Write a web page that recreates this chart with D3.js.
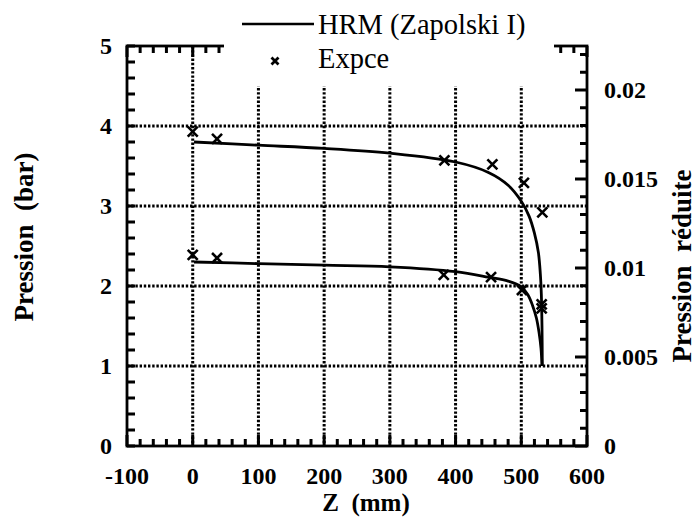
<!DOCTYPE html>
<html>
<head>
<meta charset="utf-8">
<script src="https://cdn.jsdelivr.net/npm/d3@7"></script>
<style>
  html, body { margin: 0; padding: 0; background: #fff; }
  svg { display: block; }
  text { font-family: "Liberation Serif", "Times New Roman", serif; fill: #000; white-space: pre; }
</style>
</head>
<body>
<svg id="chart" width="697" height="517"></svg>
<script>
// ---------- data ----------
const xTicks = [-100, 0, 100, 200, 300, 400, 500, 600];
const yTicks = [0, 1, 2, 3, 4, 5];
const y2Ticks = [0, 0.005, 0.01, 0.015, 0.02];
const y2TickLabels = ["0", "0.005", "0.01", "0.015", "0.02"];
const xGrid = [0, 100, 200, 300, 400, 500];
const yGrid = [1, 2, 3, 4];

// HRM (Zapolski I) model curves
const hrmUpperZ = [2, 100, 200, 300, 400, 450, 480, 500, 512, 520, 526, 529, 530.5, 531.5, 532];
const hrmUpperP = [3.80, 3.76, 3.72, 3.66, 3.55, 3.42, 3.26, 3.06, 2.87, 2.66, 2.42, 2.15, 1.90, 1.50, 1.00];
const hrmLowerZ = [2, 100, 200, 300, 400, 450, 480, 500, 510, 517, 523, 527, 530, 531.5];
const hrmLowerP = [2.30, 2.28, 2.26, 2.24, 2.18, 2.11, 2.06, 1.99, 1.89, 1.76, 1.60, 1.42, 1.22, 1.00];

// Experimental points (Expce)
const expUpperZ = [0, 37, 383, 456, 504, 532];
const expUpperP = [3.93, 3.84, 3.57, 3.52, 3.29, 2.92];
const expLowerZ = [0, 37, 382, 454, 501, 531, 531];
const expLowerP = [2.39, 2.35, 2.14, 2.11, 1.95, 1.77, 1.72];

const legendLabels = ["HRM (Zapolski I)", "Expce"];
const xTitle = "Z  (mm)";
const yTitle = "Pression  (bar)";
const y2Title = "Pression  réduite";

// ---------- layout ----------
const L = 127, R = 587, T = 46, B = 446;
const svg = d3.select("#chart");

const x = d3.scaleLinear().domain([-100, 600]).range([L, R]);
const y = d3.scaleLinear().domain([0, 5]).range([B, T]);
const y2 = d3.scaleLinear().domain([0, 0.005 * 400 / 89]).range([B, T]);

// grid (dotted)
let gp = "";
xGrid.forEach(d => { gp += `M${x(d)},${T}V${B}`; });
yGrid.forEach(d => { gp += `M${L},${y(d)}H${R}`; });
svg.append("path").attr("d", gp).attr("fill", "none")
  .attr("stroke", "#000").attr("stroke-width", 3).attr("stroke-dasharray", "2.4,1.8");

// inward ticks, drawn as one path
const xMinor = d3.range(-100, 601, 20);
const yMinor = d3.range(0, 5.001, 0.2);
const y2Minor = d3.range(0, 0.0225, 0.001);
let tp = "";
xMinor.forEach(d => { tp += `M${x(d)},${B}v-7M${x(d)},${T}v7`; });
xTicks.forEach(d => { tp += `M${x(d)},${B}v-11M${x(d)},${T}v11`; });
yMinor.forEach(d => { tp += `M${L},${y(d)}h8`; });
y2Minor.forEach(d => { tp += `M${R},${y2(d)}h-7`; });
y2Ticks.forEach(d => { tp += `M${R},${y2(d)}h-12`; });
svg.append("path").attr("d", tp).attr("fill", "none")
  .attr("stroke", "#000").attr("stroke-width", 3);

// frame
svg.append("rect").attr("x", L).attr("y", T).attr("width", R - L).attr("height", B - T)
  .attr("fill", "none").attr("stroke", "#000").attr("stroke-width", 2.8);

// tick labels
const tickFont = 24;
svg.append("g").selectAll("text").data(xTicks).join("text")
  .attr("x", d => x(d)).attr("y", 484)
  .attr("text-anchor", "middle").attr("font-weight", "bold").attr("font-size", tickFont)
  .text(d => d);
svg.append("g").selectAll("text").data(yTicks).join("text")
  .attr("x", 112).attr("y", d => y(d) + 8)
  .attr("text-anchor", "end").attr("font-weight", "bold").attr("font-size", tickFont)
  .text(d => d);
svg.append("g").selectAll("text").data(y2Ticks).join("text")
  .attr("x", 604).attr("y", d => y2(d) + 8)
  .attr("text-anchor", "start").attr("font-weight", "bold").attr("font-size", tickFont)
  .text((d, i) => y2TickLabels[i]);

// axis titles
svg.append("text").attr("x", 366).attr("y", 511).attr("text-anchor", "middle")
  .attr("font-weight", "bold").attr("font-size", 25).text(xTitle);
svg.append("text").attr("transform", "translate(33,237) rotate(-90)").attr("text-anchor", "middle")
  .attr("font-weight", "bold").attr("font-size", 27).text(yTitle);
svg.append("text").attr("transform", "translate(691,266) rotate(-90)").attr("text-anchor", "middle")
  .attr("font-weight", "bold").attr("font-size", 27).text(y2Title);

// curves
const line = d3.line().x(d => x(d[0])).y(d => y(d[1])).curve(d3.curveCatmullRom.alpha(0.5));
[[hrmUpperZ, hrmUpperP], [hrmLowerZ, hrmLowerP]].forEach(([zs, ps]) => {
  svg.append("path").datum(zs.map((z, i) => [z, ps[i]]))
    .attr("d", line).attr("fill", "none").attr("stroke", "#000").attr("stroke-width", 2.8);
});

// experimental crosses
function cross(g, cx, cy, s, w) {
  g.append("path").attr("d", `M${cx - s},${cy - s}L${cx + s},${cy + s}M${cx - s},${cy + s}L${cx + s},${cy - s}`)
    .attr("stroke", "#000").attr("stroke-width", w).attr("fill", "none");
}
const pts = svg.append("g");
expUpperZ.forEach((z, i) => cross(pts, x(z), y(expUpperP[i]), 5, 2.6));
expLowerZ.forEach((z, i) => cross(pts, x(z), y(expLowerP[i]), 5, 2.6));

// legend (white box hides frame top)
const lg = svg.append("g");
lg.append("rect").attr("x", 224).attr("y", 0).attr("width", 330).attr("height", 86).attr("fill", "#fff");
lg.append("line").attr("x1", 242).attr("x2", 314).attr("y1", 24).attr("y2", 24)
  .attr("stroke", "#000").attr("stroke-width", 2.6);
lg.append("text").attr("x", 318).attr("y", 34).attr("font-size", 28.5).text(legendLabels[0]);
cross(lg, 275, 61, 3.5, 2.8);
lg.append("text").attr("x", 318).attr("y", 68).attr("font-size", 28.5).text(legendLabels[1]);
</script>
</body>
</html>
